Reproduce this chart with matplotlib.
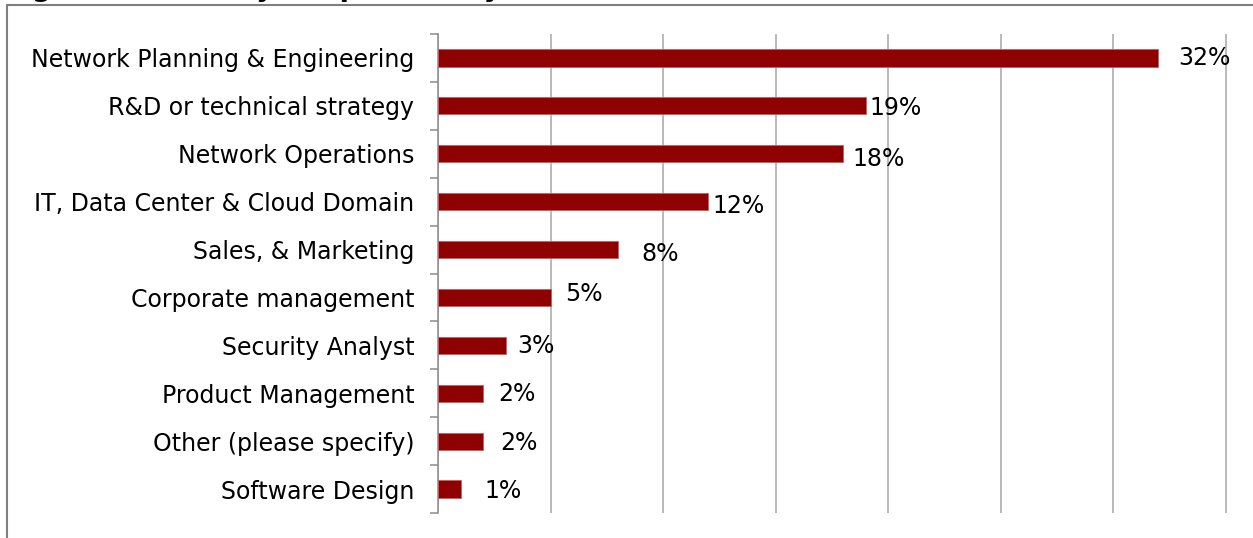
import numpy as np
import matplotlib.pyplot as plt
from matplotlib.patches import Rectangle

# Данные
categories = [
    'Network Planning & Engineering',
    'R&D or technical strategy',
    'Network Operations',
    'IT, Data Center & Cloud Domain',
    'Sales, & Marketing',
    'Corporate management',
    'Security Analyst',
    'Product Management',
    'Other (please specify)',
    'Software Design',
]
shares = [32, 19, 18, 12, 8, 5, 3, 2, 2, 1]
title = 'Figure 1: Primary Responsibility'

# сдвиг подписей от конца столбца, в пикселях (вправо, вниз)
label_dx = [20, 4, 9, 4, 23, 14, 11, 15, 17, 24]
label_dy = [0, 2, 5, 4, 4.5, -3.5, 1, 1, 1.5, 2]

W, H = 1253, 538
bar_color = '#8f0000'
line_gray = '#8c8c8c'

fig = plt.figure(figsize=(W / 100, H / 100), dpi=100)

# рамка вокруг диаграммы
fig.add_artist(Rectangle((7 / W, -0.05), 1.0, 1 - 5 / H + 0.05,
                         transform=fig.transFigure, fill=False,
                         edgecolor='#7f7f7f', linewidth=1.5))
# заголовок, почти целиком срезанный верхним краем
fig.text(4 / W, 1 + 3.5 / H, title, fontsize=19.8, fontweight='bold',
         ha='left', va='baseline')

px_per_unit = 22.5
x_max = 35.1
left, top, bottom = 438.3, 34, 513
ax = fig.add_axes([left / W, 1 - bottom / H, x_max * px_per_unit / W,
                   (bottom - top) / H])

y = np.arange(len(categories))
ax.barh(y, shares, height=0.36, color=bar_color, edgecolor='#c06060',
        linewidth=0.6, zorder=3)

for i, v in enumerate(shares):
    ax.annotate(f'{v}%', xy=(v, i), xytext=(label_dx[i], -label_dy[i]),
                textcoords='offset pixels', ha='left', va='center',
                fontsize=17, color='black', zorder=4)

# оси и сетка
ax.set_xlim(0, x_max)
ax.set_ylim(len(categories) - 0.5, -0.5)
ax.set_xticks(np.arange(0, 36, 5))
ax.xaxis.grid(True, color='#a6a6a6', linewidth=1.1, zorder=0)
ax.tick_params(axis='x', length=0, labelbottom=False)

ax.set_yticks(y)
ax.set_yticklabels(categories, fontsize=17)
ax.set_yticks(np.arange(-0.5, len(categories), 1), minor=True)
ax.tick_params(axis='y', which='major', length=0, pad=17.3)
ax.tick_params(axis='y', which='minor', length=6, width=1.1,
               color=line_gray)

for side in ['top', 'right', 'bottom']:
    ax.spines[side].set_visible(False)
ax.spines['left'].set_color(line_gray)
ax.spines['left'].set_linewidth(1.1)
ax.set_axisbelow(True)

fig.savefig('out.png', dpi=100)
